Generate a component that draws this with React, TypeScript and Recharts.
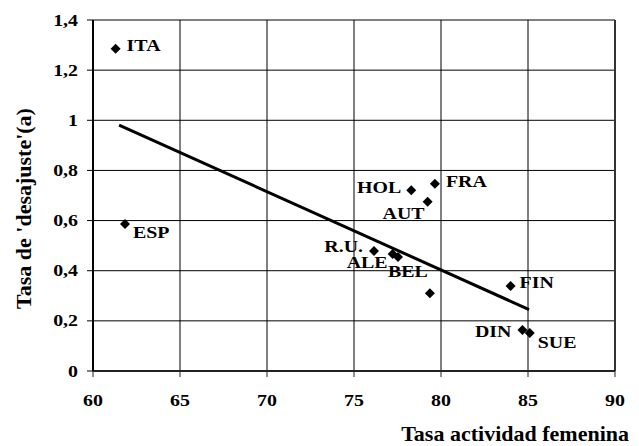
import React from "react";
import {
  ComposedChart,
  Scatter,
  XAxis,
  YAxis,
  CartesianGrid,
  ReferenceLine,
  LabelList,
  Label,
} from "recharts";

const countries = ["ITA", "ESP", "HOL", "FRA", "AUT", "R.U.", "ALE", "BEL", "", "FIN", "DIN", "SUE"];
const activity = [61.3, 61.84, 78.29, 79.65, 79.23, 76.15, 77.22, 77.53, 79.36, 84.0, 84.68, 85.1];
const mismatch = [1.285, 0.586, 0.721, 0.747, 0.675, 0.479, 0.467, 0.455, 0.31, 0.339, 0.164, 0.152];

const trendStart = { x: 61.5, y: 0.981 };
const trendEnd = { x: 85.06, y: 0.245 };

const xTicks = [60, 65, 70, 75, 80, 85, 90];
const yTicks = [0, 0.2, 0.4, 0.6, 0.8, 1, 1.2, 1.4];

const xTitle = "Tasa actividad femenina";
const yTitle = "Tasa de 'desajuste'(a)";

const data = countries.map((name, i) => ({ name, x: activity[i], y: mismatch[i] }));

// label placement relative to the marker: [dx, dy, anchor]
const labelPlacement: Record<string, [number, number, "start" | "end"]> = {
  ITA: [11, -3, "start"],
  ESP: [8, 8, "start"],
  HOL: [-10, -3, "end"],
  FRA: [11, -2, "start"],
  AUT: [-3, 12, "end"],
  "R.U.": [-11, -4, "end"],
  ALE: [-5, 9, "end"],
  BEL: [-10, 15, "start"],
  FIN: [9, -4, "start"],
  DIN: [-11, 2, "end"],
  SUE: [8, 10, "start"],
};

const FONT = "'Liberation Serif', 'Times New Roman', serif";
const STRETCH = 1.17;

const StretchText = ({ x, y, anchor, children }: any) => (
  <text
    transform={`translate(${x},${y}) scale(${STRETCH},1)`}
    x={0}
    y={0}
    textAnchor={anchor}
    dominantBaseline="central"
    fontFamily={FONT}
    fontWeight="bold"
    fontSize={17}
    fill="#000"
  >
    {children}
  </text>
);

const Diamond = (props: any) => {
  const { cx, cy } = props;
  if (cx == null || cy == null) return null;
  const r = 5;
  return (
    <polygon
      points={`${cx},${cy - r} ${cx + r},${cy} ${cx},${cy + r} ${cx - r},${cy}`}
      fill="#000"
    />
  );
};

const CountryLabel = (props: any) => {
  const { x, y, width, height, value } = props;
  if (!value) return null;
  const p = labelPlacement[value];
  if (!p) return null;
  const cx = x + (width || 0) / 2;
  const cy = y + (height || 0) / 2;
  return (
    <StretchText x={cx + p[0]} y={cy + p[1]} anchor={p[2]}>
      {value}
    </StretchText>
  );
};

const fmt = (v: number) => String(v).replace(".", ",");

const XTick = (props: any) => {
  const { x, y, payload } = props;
  return (
    <StretchText x={x} y={y + 9} anchor="middle">
      {String(payload.value)}
    </StretchText>
  );
};

const YTick = (props: any) => {
  const { x, y, payload } = props;
  return (
    <StretchText x={x} y={y} anchor="end">
      {fmt(payload.value)}
    </StretchText>
  );
};

const XTitle = (props: any) => {
  const vb = props.viewBox || {};
  return (
    <text
      x={vb.x + vb.width + 14}
      y={vb.y + vb.height - 5}
      textAnchor="end"
      fontFamily={FONT}
      fontWeight="bold"
      fontSize={22}
      fill="#000"
    >
      {xTitle}
    </text>
  );
};

const YTitle = (props: any) => {
  const vb = props.viewBox || {};
  const cx = vb.x + 23;
  const cy = vb.y + vb.height / 2 + 13;
  return (
    <text
      transform={`translate(${cx},${cy}) rotate(-90)`}
      x={0}
      y={0}
      textAnchor="middle"
      dominantBaseline="central"
      fontFamily={FONT}
      fontWeight="bold"
      fontSize={22}
      fill="#000"
    >
      {yTitle}
    </text>
  );
};

export default function App() {
  return (
    <div style={{ position: "absolute", left: 0, top: 0, background: "#fff" }}>
      <ComposedChart
        width={639}
        height={446}
        margin={{ top: 20, right: 24, bottom: 0, left: 0 }}
      >
        <CartesianGrid stroke="#000" strokeWidth={1} />
        <XAxis
          dataKey="x"
          type="number"
          domain={[60, 90]}
          ticks={xTicks}
          height={75}
          tickSize={6}
          tickMargin={14}
          axisLine={{ stroke: "#222", strokeWidth: 2 }}
          tickLine={{ stroke: "#222", strokeWidth: 1 }}
          tick={<XTick />}
        >
          <Label content={<XTitle />} />
        </XAxis>
        <YAxis
          dataKey="y"
          type="number"
          domain={[0, 1.4]}
          ticks={yTicks}
          width={93}
          tickSize={6}
          tickMargin={9}
          axisLine={{ stroke: "#000", strokeWidth: 2 }}
          tickLine={{ stroke: "#000", strokeWidth: 1 }}
          tick={<YTick />}
        >
          <Label content={<YTitle />} />
        </YAxis>
        <ReferenceLine
          segment={[trendStart, trendEnd]}
          stroke="#000"
          strokeWidth={3}
          ifOverflow="visible"
        />
        <ReferenceLine x={90} stroke="#333" strokeWidth={2} />
        <Scatter data={data} shape={<Diamond />} isAnimationActive={false}>
          <LabelList dataKey="name" content={<CountryLabel />} />
        </Scatter>
      </ComposedChart>
    </div>
  );
}
